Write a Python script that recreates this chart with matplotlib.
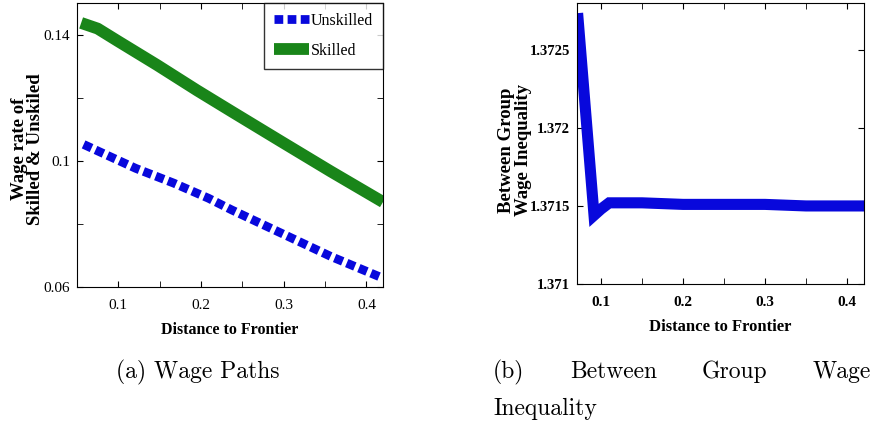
import matplotlib
matplotlib.use('Agg')
import matplotlib.pyplot as plt

# Wage paths (panel a)
dist = [0.055, 0.075, 0.099, 0.147, 0.195, 0.238, 0.297, 0.357, 0.42]
skilled = [0.1439, 0.1421, 0.1382, 0.1305, 0.1225, 0.1156, 0.1062, 0.0967, 0.0870]
dist_u = [0.058, 0.077, 0.121, 0.167, 0.209, 0.237, 0.297, 0.357, 0.42]
unskilled = [0.1053, 0.1030, 0.0977, 0.0930, 0.0882, 0.0845, 0.0771, 0.0697, 0.0628]

# Between group wage inequality (panel b)
dist_b = [0.072, 0.0915, 0.1, 0.11, 0.15, 0.2, 0.25, 0.3, 0.35, 0.4, 0.42]
inequality = [1.37270, 1.37144, 1.37148, 1.37152, 1.37152, 1.37151, 1.37151,
              1.37151, 1.37150, 1.37150, 1.37150]

x_ticks = [0.1, 0.2, 0.3, 0.4]
x_labels = ['0.1', '0.2', '0.3', '0.4']
ya_ticks = [0.06, 0.1, 0.14]
ya_labels = ['0.06', '0.1', '0.14']
yb_ticks = [1.371, 1.3715, 1.372, 1.3725]
yb_labels = ['1.371', '1.3715', '1.372', '1.3725']

SERIF = 'Liberation Serif'
BLUE = '#0808dc'
GREEN = '#198519'

fig = plt.figure(figsize=(8.75, 4.25), dpi=100)

# Panel (a)
ax1 = fig.add_axes([0.088, 0.3247, 0.3497, 0.668])
ax1.plot(dist_u, unskilled, color=BLUE, lw=6.3, linestyle=(0, (1.0, 0.5)), label='Unskilled')
ax1.plot(dist, skilled, color=GREEN, lw=8.5, solid_capstyle='butt', label='Skilled')
ax1.set_xlim(0.053, 0.42)
ax1.set_ylim(0.06, 0.1502)
ax1.set_xticks(x_ticks)
ax1.set_xticklabels(x_labels, family=SERIF, fontsize=11)
ax1.set_xticks([0.05, 0.15, 0.25, 0.35], minor=True)
ax1.set_yticks(ya_ticks)
ax1.set_yticklabels(ya_labels, family=SERIF, fontsize=11)
ax1.set_yticks([0.08, 0.12], minor=True)
ax1.tick_params(which='both', direction='in', top=True, right=True, length=4)
ax1.tick_params(axis='x', pad=8.5)
ax1.tick_params(axis='y', pad=5)
ax1.set_xlabel('Distance to Frontier', family=SERIF, fontweight='bold', fontsize=11.5, labelpad=7.5)
leg = ax1.legend(loc='upper right', borderaxespad=0, fancybox=False, edgecolor='black',
                 prop={'family': SERIF, 'size': 11.5}, handlelength=2.2,
                 handletextpad=0.15, borderpad=0.6, labelspacing=0.9)
leg.get_frame().set_linewidth(1.0)
fig.text(27.5 / 875, 1 - 149 / 425, 'Wage rate of\nSkilled & Unskiled', family=SERIF,
         fontweight='bold', fontsize=13.5, linespacing=0.95, rotation=90,
         ha='center', va='center', multialignment='center')

# Panel (b)
ax2 = fig.add_axes([0.6594, 0.3318, 0.328, 0.661])
ax2.plot(dist_b, inequality, color=BLUE, lw=8, solid_joinstyle='miter')
ax2.set_xlim(0.0707, 0.4207)
ax2.set_ylim(1.371, 1.37280)
ax2.set_xticks(x_ticks)
ax2.set_xticklabels(x_labels, family=SERIF, fontweight='bold', fontsize=11)
ax2.set_xticks([0.15, 0.25, 0.35], minor=True)
ax2.set_yticks(yb_ticks)
ax2.set_yticklabels(yb_labels, family=SERIF, fontweight='bold', fontsize=10.5)
ax2.tick_params(which='both', direction='in', top=True, right=True, length=4)
ax2.tick_params(axis='x', pad=8.5)
ax2.tick_params(axis='y', pad=5)
ax2.set_xlabel('Distance to Frontier', family=SERIF, fontweight='bold', fontsize=12, labelpad=7.5)
fig.text(515 / 875, 1 - 150 / 425, 'Between Group\nWage Inequality', family=SERIF,
         fontweight='bold', fontsize=13.5, linespacing=0.95, rotation=90,
         ha='center', va='center', multialignment='center')

# Captions
cap = {'family': 'cmr10', 'fontsize': 17}
fig.text(197.5 / 875, 1 - 378 / 425, '(a) Wage Paths', ha='center', va='baseline', **cap)
for word, xpx in [('(b)', 493), ('Between', 570), ('Group', 702), ('Wage', 813)]:
    fig.text(xpx / 875, 1 - 378 / 425, word, ha='left', va='baseline', **cap)
fig.text(493 / 875, 1 - 415 / 425, 'Inequality', ha='left', va='baseline', **cap)

fig.savefig('out.png', dpi=100)
